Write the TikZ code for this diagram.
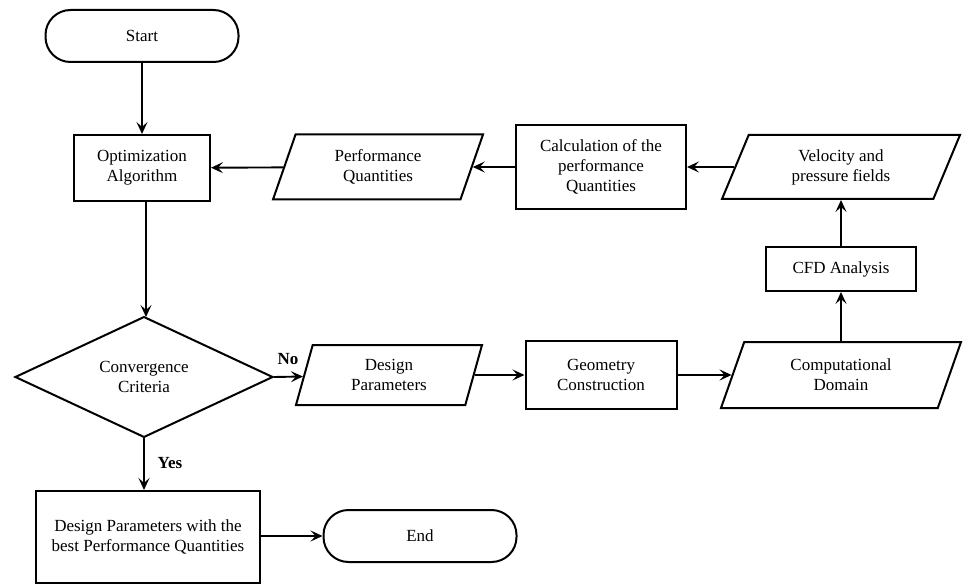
\documentclass[tikz,border=0pt]{standalone}
\usepackage{fontspec}
\setmainfont{Liberation Serif}
\usetikzlibrary{shapes.geometric, arrows.meta}
\newcommand{\myfs}{\fontsize{17}{20}\selectfont}
\begin{document}
\begin{tikzpicture}[x=1pt,y=-1pt,
  every node/.style={font=\myfs, align=center, line width=2pt},
  box/.style={draw, rectangle, inner sep=2pt},
  io/.style={draw, trapezium, trapezium stretches body, inner sep=0pt},
  term/.style={draw, rectangle, rounded corners=25pt, minimum width=193pt, minimum height=52pt},
  dec/.style={draw, diamond, minimum width=258pt, minimum height=120pt, inner sep=0pt},
  arr/.style={-{Stealth[length=12pt,width=11pt,inset=5pt]}, line width=1.9pt},
  lab/.style={font=\myfs\bfseries}]
\useasboundingbox (0,0) rectangle (963,585);
% nodes
\node[term] (start) at (142,36) {Start};
\node[box, minimum width=136pt, minimum height=66pt] (opt) at (142,168) {Optimization\\Algorithm};
\node[io, trapezium left angle=57, trapezium right angle=123, minimum width=210pt, minimum height=65pt] (perf) at (378,167) {Performance\\Quantities};
\node[box, minimum width=170pt, minimum height=84pt] (calc) at (601,167) {Calculation of the\\performance\\Quantities};
\node[io, trapezium left angle=53, trapezium right angle=127, minimum width=238pt, minimum height=64pt] (vel) at (841,167) {Velocity and\\pressure fields};
\node[box, minimum width=150pt, minimum height=44pt] (cfd) at (841,269) {CFD Analysis};
\node[io, trapezium left angle=54, trapezium right angle=126, minimum width=240pt, minimum height=66pt] (comp) at (841,375) {Computational\\Domain};
\node[box, minimum width=151pt, minimum height=68pt] (geom) at (601,375) {Geometry\\Construction};
\node[io, trapezium left angle=62, trapezium right angle=118, minimum width=186pt, minimum height=60pt] (dp) at (389,375) {Design\\Parameters};
\node[dec] (conv) at (144,377) {Convergence\\Criteria};
\node[box, minimum width=224pt, minimum height=92pt] (res) at (148,537) {Design Parameters with the\\best Performance Quantities};
\node[term] (end) at (420,536) {End};
% labels
\node[lab] (no) at (288,359) {No};
\node[lab] (yes) at (170,463) {Yes};
% connectors
\draw[arr] (start) -- (start |- opt.north);
\draw[arr] (opt.south -| 146,0) -- (146,317);
\draw[arr] (perf) -- (opt);
\draw[arr] (calc) -- (perf);
\draw[arr] (vel.west |- calc.east) -- (calc);
\draw[arr] (cfd) -- (vel);
\draw[arr] (comp) -- (cfd);
\draw[arr] (geom) -- (comp);
\draw[arr] (dp) -- (geom);
\draw[arr] (conv.east) -- (dp);
\draw[arr] (conv.south) -- (conv.south |- res.north);
\draw[arr] (res.east |- end) -- (end);
\end{tikzpicture}
\end{document}
